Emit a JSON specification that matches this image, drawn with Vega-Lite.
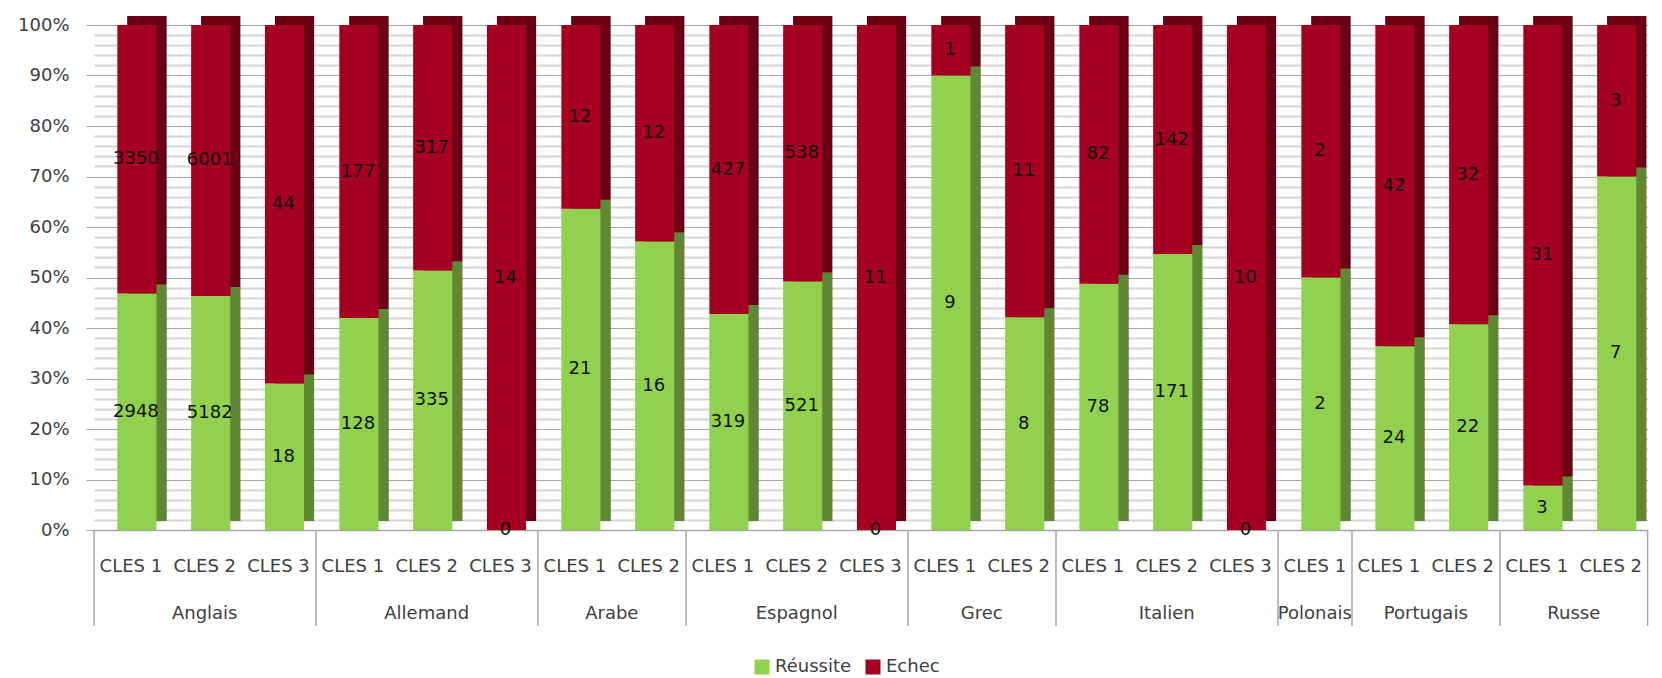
{
  "$schema": "https://vega.github.io/schema/vega-lite/v6.json",
  "background": "white",
  "padding": {"left": 17, "top": 16, "right": 0, "bottom": 0},
  "autosize": {"type": "pad"},
  "config": {
    "view": {"stroke": null},
    "font": "DejaVu Sans"
  },
  "data": {
    "values": [
      {"lang": "Anglais", "cles": "CLES 1", "serie": "Réussite", "n": 2948},
      {"lang": "Anglais", "cles": "CLES 1", "serie": "Echec", "n": 3350},
      {"lang": "Anglais", "cles": "CLES 2", "serie": "Réussite", "n": 5182},
      {"lang": "Anglais", "cles": "CLES 2", "serie": "Echec", "n": 6001},
      {"lang": "Anglais", "cles": "CLES 3", "serie": "Réussite", "n": 18},
      {"lang": "Anglais", "cles": "CLES 3", "serie": "Echec", "n": 44},
      {"lang": "Allemand", "cles": "CLES 1", "serie": "Réussite", "n": 128},
      {"lang": "Allemand", "cles": "CLES 1", "serie": "Echec", "n": 177},
      {"lang": "Allemand", "cles": "CLES 2", "serie": "Réussite", "n": 335},
      {"lang": "Allemand", "cles": "CLES 2", "serie": "Echec", "n": 317},
      {"lang": "Allemand", "cles": "CLES 3", "serie": "Réussite", "n": 0},
      {"lang": "Allemand", "cles": "CLES 3", "serie": "Echec", "n": 14},
      {"lang": "Arabe", "cles": "CLES 1", "serie": "Réussite", "n": 21},
      {"lang": "Arabe", "cles": "CLES 1", "serie": "Echec", "n": 12},
      {"lang": "Arabe", "cles": "CLES 2", "serie": "Réussite", "n": 16},
      {"lang": "Arabe", "cles": "CLES 2", "serie": "Echec", "n": 12},
      {"lang": "Espagnol", "cles": "CLES 1", "serie": "Réussite", "n": 319},
      {"lang": "Espagnol", "cles": "CLES 1", "serie": "Echec", "n": 427},
      {"lang": "Espagnol", "cles": "CLES 2", "serie": "Réussite", "n": 521},
      {"lang": "Espagnol", "cles": "CLES 2", "serie": "Echec", "n": 538},
      {"lang": "Espagnol", "cles": "CLES 3", "serie": "Réussite", "n": 0},
      {"lang": "Espagnol", "cles": "CLES 3", "serie": "Echec", "n": 11},
      {"lang": "Grec", "cles": "CLES 1", "serie": "Réussite", "n": 9},
      {"lang": "Grec", "cles": "CLES 1", "serie": "Echec", "n": 1},
      {"lang": "Grec", "cles": "CLES 2", "serie": "Réussite", "n": 8},
      {"lang": "Grec", "cles": "CLES 2", "serie": "Echec", "n": 11},
      {"lang": "Italien", "cles": "CLES 1", "serie": "Réussite", "n": 78},
      {"lang": "Italien", "cles": "CLES 1", "serie": "Echec", "n": 82},
      {"lang": "Italien", "cles": "CLES 2", "serie": "Réussite", "n": 171},
      {"lang": "Italien", "cles": "CLES 2", "serie": "Echec", "n": 142},
      {"lang": "Italien", "cles": "CLES 3", "serie": "Réussite", "n": 0},
      {"lang": "Italien", "cles": "CLES 3", "serie": "Echec", "n": 10},
      {"lang": "Polonais", "cles": "CLES 1", "serie": "Réussite", "n": 2},
      {"lang": "Polonais", "cles": "CLES 1", "serie": "Echec", "n": 2},
      {"lang": "Portugais", "cles": "CLES 1", "serie": "Réussite", "n": 24},
      {"lang": "Portugais", "cles": "CLES 1", "serie": "Echec", "n": 42},
      {"lang": "Portugais", "cles": "CLES 2", "serie": "Réussite", "n": 22},
      {"lang": "Portugais", "cles": "CLES 2", "serie": "Echec", "n": 32},
      {"lang": "Russe", "cles": "CLES 1", "serie": "Réussite", "n": 3},
      {"lang": "Russe", "cles": "CLES 1", "serie": "Echec", "n": 31},
      {"lang": "Russe", "cles": "CLES 2", "serie": "Réussite", "n": 7},
      {"lang": "Russe", "cles": "CLES 2", "serie": "Echec", "n": 3}
    ]
  },
  "transform": [
    {"stack": "n", "groupby": ["lang", "cles"], "sort": [{"field": "serie", "order": "descending"}], "offset": "normalize", "as": ["y0", "y1"]}
  ],
  "facet": {
    "column": {
      "field": "lang",
      "type": "nominal",
      "sort": ["Anglais", "Allemand", "Arabe", "Espagnol", "Grec", "Italien", "Polonais", "Portugais", "Russe"],
      "title": null,
      "header": {"labelOrient": "bottom", "labelFontSize": 18, "labelFont": "DejaVu Sans", "labelColor": "#404040", "labelPadding": 75}
    }
  },
  "spacing": 0,
  "bounds": "flush",
  "resolve": {"scale": {"x": "independent"}},
  "spec": {
    "width": {"step": 73.8},
    "height": 505,
    "encoding": {
      "x": {
        "field": "cles", "type": "nominal", "title": null,
        "scale": {"paddingInner": 0, "paddingOuter": 0},
        "axis": {"labelAngle": 0, "labelFontSize": 18, "labelFont": "DejaVu Sans", "labelColor": "#404040", "labelPadding": 27, "ticks": false, "domainColor": "#a6a6a6", "domainWidth": 1.5, "grid": false}
      }
    },
    "layer": [
      {
        "mark": {"type": "bar", "width": {"band": 0.53}, "xOffset": 16, "yOffset": -9, "y2Offset": -9, "color": "black"},
        "encoding": {
          "y": {
            "field": "y0", "type": "quantitative", "title": null,
            "scale": {"domain": [0, 1], "nice": false},
            "axis": {
              "tickCount": 50,
              "format": ".0%",
              "labelExpr": "round(datum.value*100) % 10 === 0 ? datum.label : ''",
              "labelOverlap": false,
              "labelFontSize": 18, "labelFont": "DejaVu Sans", "labelColor": "#404040", "labelPadding": 17,
              "tickSize": 8,
              "tickColor": {"condition": {"test": "round(datum.value*100) % 10 === 0", "value": "#a6a6a6"}, "value": "transparent"},
              "gridColor": {"condition": {"test": "round(datum.value*100) % 10 === 0", "value": "#a6a6a6"}, "value": "#d6d6d6"},
              "gridWidth": {"condition": {"test": "round(datum.value*100) % 10 === 0", "value": 1}, "value": 2},
              "domain": false
            }
          },
          "y2": {"field": "y1"}
        }
      },
      {
        "mark": {"type": "bar", "width": {"band": 0.53}, "xOffset": 16, "yOffset": -9, "y2Offset": -9, "opacity": 0.65},
        "encoding": {
          "y": {"field": "y0", "type": "quantitative", "title": null},
          "y2": {"field": "y1"},
          "color": {"field": "serie", "type": "nominal", "scale": {"domain": ["Réussite", "Echec"], "range": ["#92d050", "#a50021"]}}
        }
      },
      {
        "mark": {"type": "bar", "width": {"band": 0.53}, "xOffset": 6},
        "encoding": {
          "y": {"field": "y0", "type": "quantitative", "title": null},
          "y2": {"field": "y1"},
          "color": {
            "field": "serie", "type": "nominal",
            "scale": {"domain": ["Réussite", "Echec"], "range": ["#92d050", "#a50021"]},
            "legend": {
              "title": null, "orient": "none", "legendX": 659, "legendY": 633, "direction": "horizontal",
              "symbolType": "square", "symbolSize": 225, "symbolStrokeWidth": 0, "symbolOpacity": 1,
              "labelFontSize": 18, "labelFont": "DejaVu Sans", "labelColor": "#404040", "columnPadding": 12, "labelOffset": 4,
              "encode": {"symbols": {"update": {"opacity": {"value": 1}, "fillOpacity": {"value": 1}}}}
            }
          }
        }
      },
      {
        "transform": [
          {"fold": ["y0", "y1"], "as": ["k", "v"]},
          {"aggregate": [{"op": "mean", "field": "v", "as": "mid"}], "groupby": ["lang", "cles", "serie", "n"]}
        ],
        "mark": {"type": "text", "fontSize": 18, "font": "DejaVu Sans", "color": "#111111", "xOffset": 5},
        "encoding": {
          "y": {"field": "mid", "type": "quantitative", "title": null},
          "text": {"field": "n", "type": "quantitative"}
        }
      },
      {
        "transform": [{"filter": "datum.cles === 'CLES 1' && datum.serie === 'Echec'"}],
        "mark": {"type": "rule", "color": "#a6a6a6", "strokeWidth": 1.5},
        "encoding": {
          "x": {"field": "cles", "type": "nominal", "bandPosition": 0},
          "y": {"datum": 0, "title": null},
          "y2": {"datum": -0.19}
        }
      },
      {
        "transform": [{"filter": "datum.lang === 'Russe' && datum.cles === 'CLES 2' && datum.serie === 'Echec'"}],
        "mark": {"type": "rule", "color": "#a6a6a6", "strokeWidth": 1.5},
        "encoding": {
          "x": {"field": "cles", "type": "nominal", "bandPosition": 1},
          "y": {"datum": 0, "title": null},
          "y2": {"datum": -0.19}
        }
      }
    ]
  }
}
